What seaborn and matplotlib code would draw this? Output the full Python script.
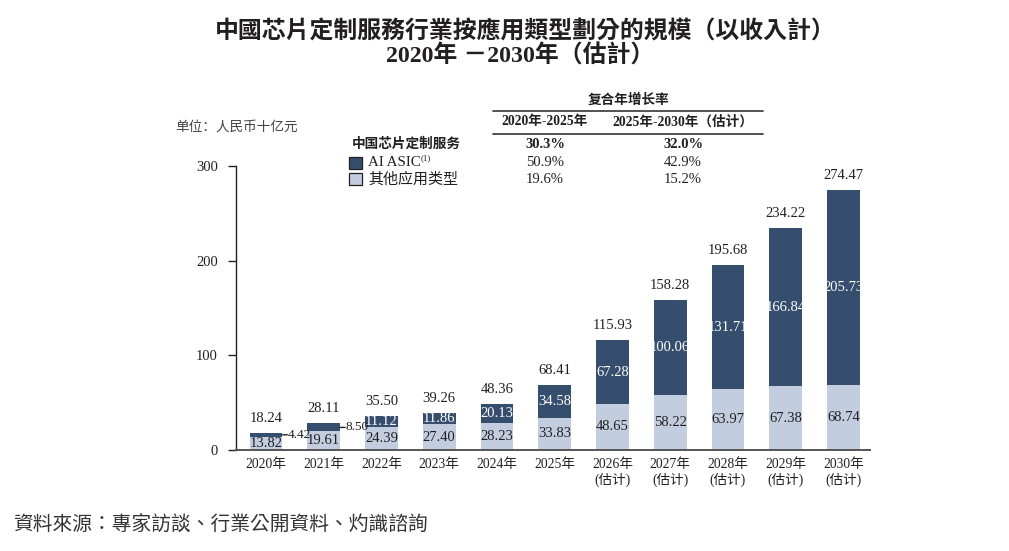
import numpy as np
import pandas as pd
import matplotlib
matplotlib.use("Agg")
import matplotlib.pyplot as plt
import seaborn as sns
from matplotlib.patches import Rectangle
from matplotlib.lines import Line2D

years = ["2020年", "2021年", "2022年", "2023年", "2024年", "2025年",
         "2026年\n(估计)", "2027年\n(估计)", "2028年\n(估计)", "2029年\n(估计)", "2030年\n(估计)"]
ai_asic = [4.42, 8.50, 11.12, 11.86, 20.13, 34.58, 67.28, 100.06, 131.71, 166.84, 205.73]
other = [13.82, 19.61, 24.39, 27.40, 28.23, 33.83, 48.65, 58.22, 63.97, 67.38, 68.74]
totals = [18.24, 28.11, 35.50, 39.26, 48.36, 68.41, 115.93, 158.28, 195.68, 234.22, 274.47]

cagr_head = ["2020年-2025年", "2025年-2030年（估计）"]
cagr_total = ["30.3%", "32.0%"]
cagr_ai = ["50.9%", "42.9%"]
cagr_other = ["19.6%", "15.2%"]

dark = "#354e6d"
light = "#c3cde0"
ink = "#231f20"

df = pd.DataFrame({"year": years, "ai": ai_asic, "other": other, "total": totals})

sns.set_style("ticks")
plt.rcParams['font.family'] = ['Liberation Serif', 'Noto Sans CJK SC']
cjk = ['Noto Sans CJK TC', 'DejaVu Sans']
cjks = ['Noto Sans CJK SC', 'DejaVu Sans']
mix = ['Liberation Serif', 'Noto Sans CJK SC']

W, H = 1009, 551
fig = plt.figure(figsize=(W / 100, H / 100), dpi=100)
ax = fig.add_axes([236 / W, 1 - 450 / H, (870 - 236) / W, (450 - 166) / H])

def fx(x):
    return x / W

def fy(y):
    return 1 - y / H

bw = 0.57
sns.barplot(data=df, x="year", y="total", color=dark, saturation=1, width=bw, errorbar=None,
            linewidth=0, ax=ax)
sns.barplot(data=df, x="year", y="other", color=light, saturation=1, width=bw, errorbar=None,
            linewidth=0, ax=ax)

fs = 10.5
for i, row in df.iterrows():
    ax.annotate(f"{row['total']:.2f}", xy=(i, row['total']), xytext=(0, 10.5),
                textcoords="offset points", ha="center", va="center", fontsize=fs, color=ink)
    ax.text(i, row['other'] / 2, f"{row['other']:.2f}", ha="center", va="center",
            fontsize=fs, color=ink)
    mid = row['other'] + row['ai'] / 2
    if i < 2:
        # small segments: label outside with a short leader
        ax.annotate(f"{row['ai']:.2f}", xy=(i + bw / 2, mid), xytext=(3.5, 0),
                    textcoords="offset points", ha="left", va="center", fontsize=9.5, color=ink,
                    arrowprops=dict(arrowstyle="-", lw=1.0, color=ink, patchA=None,
                                    relpos=(0, 0.5), shrinkA=0, shrinkB=0))
    else:
        ax.text(i, mid, f"{row['ai']:.2f}", ha="center", va="center", fontsize=fs, color="white")

ax.set_xlim(-0.52, 10.46)
ax.set_ylim(0, 300)
ax.set_yticks([0, 100, 200, 300])
ax.set_xlabel("")
ax.set_ylabel("")
for s in ["top", "right"]:
    ax.spines[s].set_visible(False)
ax.spines["left"].set_color(ink)
ax.spines["left"].set_linewidth(1.0)
ax.spines["bottom"].set_color("#555555")
ax.spines["bottom"].set_linewidth(1.4)
ax.tick_params(axis="y", length=6, width=1.0, pad=7, labelsize=10.5, colors=ink)
ax.tick_params(axis="x", length=0, pad=6, labelsize=9.8, colors=ink)
for lab in ax.get_xticklabels():
    lab.set_linespacing(1.1)

# title
fig.text(0.521, fy(32), "中國芯片定制服務行業按應用類型劃分的規模（以收入計）", ha="center", va="center",
         fontsize=17.2, fontweight="bold", family=cjk, color=ink)
fig.text(0.515, fy(56), "2020年 －2030年（估計）", ha="center", va="center",
         fontsize=17.2, fontweight="bold", family=['Liberation Serif', 'Noto Sans CJK TC'], color=ink)

# unit
fig.text(fx(175), fy(127), "单位：人民币十亿元", ha="left", va="center", fontsize=9.8,
         style="italic", family=cjks, color="#444444")

# legend block
fig.text(fx(352), fy(144), "中国芯片定制服务", ha="left", va="center", fontsize=9.8,
         fontweight="bold", family=cjks, color=ink)
for yy, col in [(163, dark), (179, light)]:
    fig.add_artist(Rectangle((fx(349), fy(yy + 6)), 13 / W, 12 / H, facecolor=col,
                             edgecolor=ink, linewidth=0.9, transform=fig.transFigure))
fig.text(fx(368), fy(163), "AI ASIC", ha="left", va="center", fontsize=10.8, family=mix, color=ink)
fig.text(fx(368 + 53), fy(158), "(1)", ha="left", va="center", fontsize=6.5, family=mix, color=ink)
fig.text(fx(368), fy(180), "其他应用类型", ha="left", va="center", fontsize=10.8, family=mix, color=ink)

# CAGR table
fig.text(fx(628), fy(100), "复合年增长率", ha="center", va="center", fontsize=9.8,
         fontweight="bold", family=cjks, color=ink)
for yy in [111, 134]:
    fig.add_artist(Line2D([fx(493), fx(763)], [fy(yy), fy(yy)], color="#444444", lw=1.3,
                          transform=fig.transFigure))
cols = [545, 683]
for c, head, tt, a, o in zip(cols, cagr_head, cagr_total, cagr_ai, cagr_other):
    fig.text(fx(c), fy(122), head, ha="center", va="center", fontsize=9.8, fontweight="bold",
             family=mix, color=ink)
    fig.text(fx(c), fy(145), tt, ha="center", va="center", fontsize=10.5, fontweight="bold",
             family=mix, color=ink)
    fig.text(fx(c), fy(163), a, ha="center", va="center", fontsize=10.5, family=mix, color=ink)
    fig.text(fx(c), fy(180), o, ha="center", va="center", fontsize=10.5, family=mix, color=ink)

# source
fig.text(fx(13), fy(525), "資料來源：專家訪談、行業公開資料、灼識諮詢", ha="left", va="center",
         fontsize=14.2, style="italic", family=cjk, color="#333333")

fig.savefig("out.png", dpi=100)
